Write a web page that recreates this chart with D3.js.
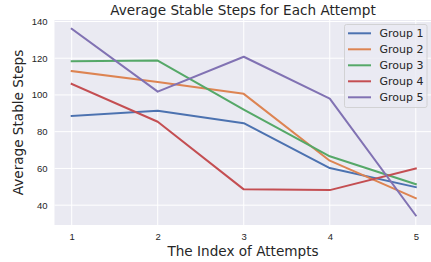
<!DOCTYPE html>
<html>
<head>
<meta charset="utf-8">
<script src="https://cdn.jsdelivr.net/npm/d3@7"></script>
<style>
  body { margin: 0; background: #fff; }
  svg { display: block; font-family: "DejaVu Sans", sans-serif; }
</style>
</head>
<body>
<svg width="431" height="262"></svg>
<script>
const attempts = [1, 2, 3, 4, 5];
const groupNames = ["Group 1", "Group 2", "Group 3", "Group 4", "Group 5"];
const group1 = [88.6, 91.4, 84.6, 60.2, 49.8];
const group2 = [113.0, 107.0, 100.6, 64.2, 43.8];
const group3 = [118.3, 118.7, 92.0, 66.6, 51.4];
const group4 = [106.0, 85.4, 48.6, 48.2, 60.0];
const group5 = [136.0, 101.8, 120.8, 98.0, 34.4];
const yTicks = [40, 60, 80, 100, 120, 140];
const colors = ["#4C72B0", "#DD8452", "#55A868", "#C44E52", "#8172B3"];

const series = [group1, group2, group3, group4, group5];

const svg = d3.select("svg");
const plotL = 54.5, plotR = 433, plotT = 20, plotB = 225;

// escalas
const x = d3.scaleLinear().domain([0.8, 5.2]).range([plotL, plotR]);
const y = d3.scaleLinear().domain([29.2, 140.8]).range([plotB, plotT]);

// fundo
svg.append("rect")
   .attr("x", plotL).attr("y", plotT)
   .attr("width", plotR - plotL).attr("height", plotB - plotT)
   .attr("fill", "#EAEAF2");

// grade
svg.append("g")
   .selectAll("line")
   .data(attempts)
   .enter().append("line")
   .attr("x1", d => x(d)).attr("x2", d => x(d))
   .attr("y1", plotT).attr("y2", plotB)
   .attr("stroke", "#fff").attr("stroke-width", 1);

svg.append("g")
   .selectAll("line")
   .data(yTicks)
   .enter().append("line")
   .attr("x1", plotL).attr("x2", plotR)
   .attr("y1", d => y(d)).attr("y2", d => y(d))
   .attr("stroke", "#fff").attr("stroke-width", 1);

// eixos
const xAxis = svg.append("g")
   .attr("transform", `translate(0,${plotB})`)
   .call(d3.axisBottom(x).tickValues(attempts).tickFormat(d3.format("d")).tickSize(0).tickPadding(8));
xAxis.select(".domain").remove();
xAxis.selectAll("text").attr("fill", "#262626").style("font-size", "9.5px");

const yAxis = svg.append("g")
   .attr("transform", `translate(${plotL},0)`)
   .call(d3.axisLeft(y).tickValues(yTicks).tickSize(0).tickPadding(7));
yAxis.select(".domain").remove();
yAxis.selectAll("text").attr("fill", "#262626").style("font-size", "9.5px");

// linhas
const line = d3.line()
   .x((d, i) => x(attempts[i]))
   .y(d => y(d));

svg.append("g")
   .selectAll("path")
   .data(series)
   .enter().append("path")
   .attr("d", line)
   .attr("fill", "none")
   .attr("stroke", (d, i) => colors[i])
   .attr("stroke-width", 2)
   .attr("stroke-linejoin", "round")
   .attr("stroke-linecap", "square");

// títulos
svg.append("text")
   .attr("x", 243).attr("y", 15)
   .attr("text-anchor", "middle")
   .attr("fill", "#262626")
   .style("font-size", "13.6px")
   .text("Average Stable Steps for Each Attempt");

svg.append("text")
   .attr("x", 243).attr("y", 256)
   .attr("text-anchor", "middle")
   .attr("fill", "#262626")
   .style("font-size", "13.6px")
   .text("The Index of Attempts");

svg.append("text")
   .attr("transform", `translate(23,${(plotT + plotB) / 2}) rotate(-90)`)
   .attr("text-anchor", "middle")
   .attr("fill", "#262626")
   .style("font-size", "13.6px")
   .text("Average Stable Steps");

// legenda
const legend = svg.append("g");
legend.append("rect")
   .attr("x", 344.5).attr("y", 24.5)
   .attr("width", 82.5).attr("height", 83)
   .attr("rx", 2)
   .attr("fill", "#EAEAF2").attr("fill-opacity", 0.8)
   .attr("stroke", "#ccc").attr("stroke-width", 0.8);

const items = legend.selectAll("g.item")
   .data(groupNames)
   .enter().append("g")
   .attr("class", "item")
   .attr("transform", (d, i) => `translate(0,${33.3 + i * 16})`);

items.append("line")
   .attr("x1", 348).attr("x2", 371)
   .attr("stroke", (d, i) => colors[i])
   .attr("stroke-width", 2);

items.append("text")
   .attr("x", 379.5).attr("dy", "0.35em")
   .attr("fill", "#262626")
   .style("font-size", "11px")
   .text(d => d);
</script>
</body>
</html>
